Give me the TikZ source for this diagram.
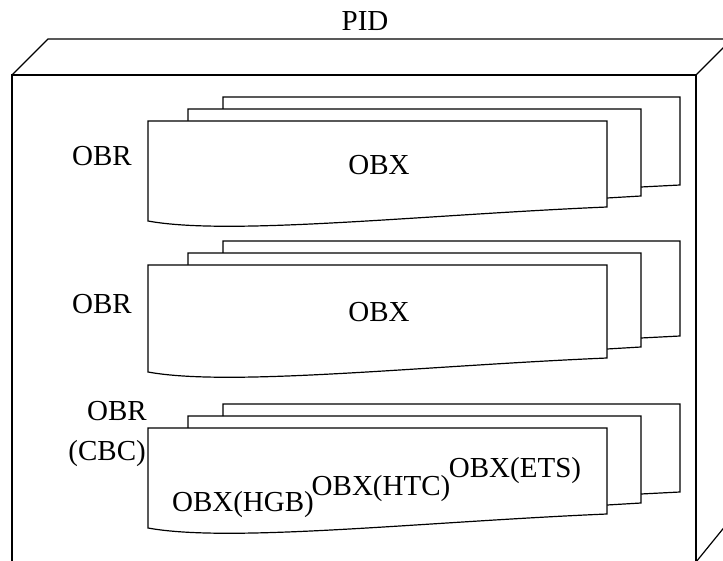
\documentclass[tikz,border=0pt]{standalone}
\usepackage{fontspec}
\setmainfont{Liberation Serif}
\usetikzlibrary{positioning}

\begin{document}
\begin{tikzpicture}[x=1pt, y=-1pt,
    edge/.style={draw, line width=1.2pt},
    card/.style={draw, line width=1.2pt, fill=white},
    lbl/.style={font=\fontsize{29}{39}\selectfont, inner sep=0pt}
  ]
    \useasboundingbox (0,0) rectangle (723,561);
    \begin{scope}
      \clip (0,0) rectangle (723,561);
      \draw[edge] (12,75) rectangle (696,575);
      \draw[edge] (12,75) -- (48,39) -- (740,39);
      \draw[edge] (696,75) -- (735,36);
      \draw[edge] (696,562) -- (735,514);
    \end{scope}

    \foreach \t/\b in {121/221, 265/372, 428/528} {
      \draw[edge] (223,\t-12) -- (223,\t-24) -- (680,\t-24) -- (680,\b-36) -- (641,\b-34);
      \draw[edge] (188,\t) -- (188,\t-12) -- (641,\t-12) -- (641,\b-25) -- (607,\b-23);
      \draw[card] (148,\t) -- (607,\t) -- (607,\b-14)
        .. controls (420,\b-6) and (230,\b+15) .. (148,\b) -- cycle;
    }

    \node[lbl, anchor=base] (pid) at (365,31) {PID};
    \node[lbl, anchor=base] (obr1) at (102,166) {OBR};
    \node[lbl, anchor=base] (obx1) at (379,175) {OBX};
    \node[lbl, anchor=base] (obr2) at (102,314) {OBR};
    \node[lbl, anchor=base] (obx2) at (379,322) {OBX};
    \node[lbl, anchor=base east] (obr3) at (147,420) {OBR};
    \node[lbl, anchor=base east] (cbc) at (146,460) {(CBC)};
    \node[lbl, anchor=base] (hgb) at (243,511) {OBX(HGB)};
    \node[lbl, anchor=base] (htc) at (381,495) {OBX(HTC)};
    \node[lbl, anchor=base] (ets) at (515,477) {OBX(ETS)};
\end{tikzpicture}
\end{document}
